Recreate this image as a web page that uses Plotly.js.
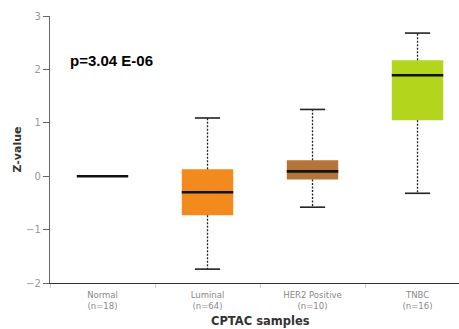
<!DOCTYPE html>
<html><head><meta charset="utf-8">
<script src="https://cdn.plot.ly/plotly-3.0.1.min.js"></script>
<style>html,body{margin:0;padding:0;background:#fff}#c{width:459px;height:329px}</style>
</head><body><div id="c"></div>
<script>
const categories = ["Normal", "Luminal", "HER2 Positive", "TNBC"];
const counts = ["n=18", "n=64", "n=10", "n=16"];
const q1 = [0, -0.73, -0.06, 1.05];
const median = [0, -0.30, 0.09, 1.89];
const q3 = [0, 0.13, 0.30, 2.17];
const lowerWhisker = [0, -1.74, -0.58, -0.32];
const upperWhisker = [0, 1.09, 1.25, 2.68];
const boxColors = ["#000000", "#F28A1E", "#B5743A", "#B3D51C"];
const pText = "p=3.04 E-06";

const idx = categories.map((_, i) => i);
const boxHalf = 0.245, capHalf = 0.12;
function segs(fn) { const xs = [], ys = []; idx.forEach(i => { const s = fn(i); if (s) { xs.push(s[0], s[1], null); ys.push(s[2], s[3], null); } }); return {x: xs, y: ys}; }

const traces = [];
traces.push({type: 'bar', x: idx.slice(1), base: idx.slice(1).map(i => q1[i]), y: idx.slice(1).map(i => q3[i] - q1[i]),
  width: boxHalf * 2, marker: {color: idx.slice(1).map(i => boxColors[i]), line: {width: 0}}, hoverinfo: 'skip'});
const wUp = segs(i => upperWhisker[i] !== q3[i] ? [i, i, q3[i], upperWhisker[i]] : null);
const wLo = segs(i => lowerWhisker[i] !== q1[i] ? [i, i, q1[i], lowerWhisker[i]] : null);
traces.push({type: 'scatter', mode: 'lines', x: wUp.x.concat(wLo.x), y: wUp.y.concat(wLo.y), line: {color: '#222', width: 1.3, dash: '2px,1.5px'}, hoverinfo: 'skip'});
const capU = segs(i => upperWhisker[i] !== q3[i] ? [i - capHalf, i + capHalf, upperWhisker[i], upperWhisker[i]] : null);
const capL = segs(i => lowerWhisker[i] !== q1[i] ? [i - capHalf, i + capHalf, lowerWhisker[i], lowerWhisker[i]] : null);
traces.push({type: 'scatter', mode: 'lines', x: capU.x.concat(capL.x), y: capU.y.concat(capL.y), line: {color: '#222', width: 1.6}, hoverinfo: 'skip'});
const med = segs(i => [i - boxHalf, i + boxHalf, median[i], median[i]]);
traces.push({type: 'scatter', mode: 'lines', x: med.x, y: med.y, line: {color: '#111', width: 2.6}, hoverinfo: 'skip'});

const layout = {
  width: 459, height: 329, showlegend: false,
  margin: {l: 50, r: 0, t: 16, b: 46},
  paper_bgcolor: '#fff', plot_bgcolor: '#fff',
  font: {family: 'DejaVu Sans', color: '#888'},
  xaxis: {range: [-0.5, 3.395], tickvals: idx, ticktext: idx.map(i => categories[i] + '<br>(' + counts[i] + ')'),
    ticks: '', showgrid: false, zeroline: false, showline: true, linecolor: '#333', linewidth: 1.2,
    tickfont: {size: 8.5, color: '#888'}, ticklabelstandoff: 4,
    minor: {tick0: -0.5, dtick: 1, ticks: 'outside', ticklen: 4, tickcolor: '#ccc', showgrid: false}},
  yaxis: {range: [-2, 3], tickvals: [-2, -1, 0, 1, 2, 3], ticks: 'outside', ticklen: 6, tickcolor: '#666',
    showgrid: false, zeroline: false, showline: true, linecolor: '#666', linewidth: 1.2,
    tickfont: {size: 10, color: '#999'},
    title: {text: '<b>Z-value</b>', font: {size: 11, color: '#333'}, standoff: 2}},
  annotations: [
    {text: '<b>' + pText + '</b>', xref: 'paper', yref: 'paper', x: 0.043, y: 0.833, xanchor: 'left', yanchor: 'middle', showarrow: false,
      font: {family: 'Liberation Sans', size: 15, color: '#000'}},
    {text: '<b>CPTAC samples</b>', xref: 'x', yref: 'paper', x: 1.5, y: -0.142, xanchor: 'center', yanchor: 'middle', showarrow: false,
      font: {family: 'DejaVu Sans', size: 11.5, color: '#333'}}
  ]
};
Plotly.newPlot('c', traces, layout, {staticPlot: true, displayModeBar: false});
</script></body></html>
